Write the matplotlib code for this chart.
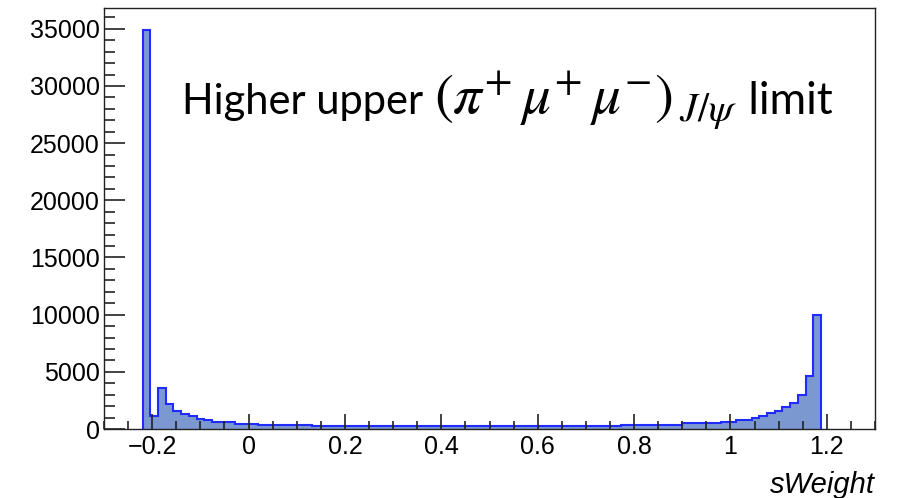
import numpy as np
import matplotlib
matplotlib.use('Agg')
import matplotlib.pyplot as plt
from matplotlib.ticker import MultipleLocator

# histogram binning: 100 bins on [-0.3, 1.3], only bins 5..92 are filled
bin_lo = -0.22
bin_width = 0.016
counts = [
    34900, 1180, 3550, 2170, 1600, 1340, 1100, 900, 760,
    610, 610, 610,
    480, 480, 480,
    360, 360, 360, 360, 360, 360, 360,
    220, 220, 220, 220, 220, 220, 220, 220, 220, 220,
    220, 220, 220, 220, 220, 220, 220, 220, 220, 220,
    220, 220, 220, 220, 220, 220, 220, 220, 220, 220,
    220, 220, 220, 220, 220, 220, 220, 220,
    300, 220,
    350, 350, 350, 350, 350, 350, 350, 350,
    490, 490, 490, 490, 490,
    650, 650,
    790, 790,
    930, 1110, 1380, 1550, 1930, 2300, 3000, 4650, 9950,
]
edges = bin_lo + bin_width * np.arange(len(counts) + 1)

x_ticks = [-0.2, 0, 0.2, 0.4, 0.6, 0.8, 1, 1.2]
x_tick_labels = ['\u22120.2', '0', '0.2', '0.4', '0.6', '0.8', '1', '1.2']
y_ticks = [0, 5000, 10000, 15000, 20000, 25000, 30000, 35000]

plt.rcParams['mathtext.fontset'] = 'stix'

fig = plt.figure(figsize=(9.01, 4.98), dpi=100)
ax = fig.add_axes([104 / 901, 1 - 429 / 498, 771 / 901, 421 / 498])

ax.stairs(counts, edges, fill=True, color='#7b98d0', baseline=0)
ax.stairs(counts, edges, color='#1f2bff', lw=1.5, baseline=0)

ax.set_xlim(-0.3, 1.3)
ax.set_ylim(0, max(counts) * 1.055)

ax.set_xticks(x_ticks)
ax.set_xticklabels(x_tick_labels)
ax.set_yticks(y_ticks)
ax.xaxis.set_minor_locator(MultipleLocator(0.05))
ax.yaxis.set_minor_locator(MultipleLocator(1000))

ax.tick_params(which='both', direction='in', top=False, right=False,
               labelsize=18, width=1.2, color='#222222')
ax.tick_params(axis='x', which='major', length=11, pad=4)
ax.tick_params(axis='x', which='minor', length=6)
ax.tick_params(axis='y', which='major', length=15, pad=3)
ax.tick_params(axis='y', which='minor', length=8)
for lab in ax.get_xticklabels() + ax.get_yticklabels():
    lab.set_family('Liberation Sans')

for sp in ax.spines.values():
    sp.set_linewidth(1.0)
    sp.set_color('#222222')

ax.text(1.0, -0.1, 'sWeight', transform=ax.transAxes, ha='right', va='top',
        fontsize=21, style='italic', family='Liberation Sans')

# annotation: plain words in a sans font, formula larger in math font
pieces = [
    ('Higher upper ', 30),
    (r'$(\pi^{+}\,\mu^{+}\,\mu^{-})_{\,J/\psi}$', 41),
    (' limit', 32),
]
renderer = fig.canvas.get_renderer()
x_px = 182
base_px = 498 - 114
for s, size in pieces:
    t = fig.text(x_px / 901, base_px / 498, s, ha='left', va='baseline',
                 fontsize=size, family='Lato')
    bb = t.get_window_extent(renderer)
    x_px = bb.x1

fig.savefig('out.png', dpi=100)
